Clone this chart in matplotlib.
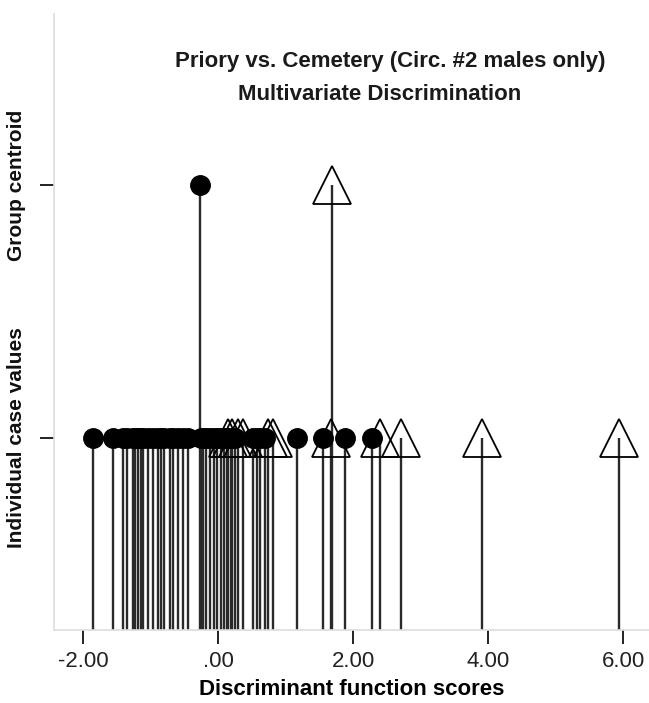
import matplotlib
matplotlib.use("Agg")
import matplotlib.pyplot as plt

plt.rcParams['font.family'] = ['Liberation Sans', 'DejaVu Sans']

# ---- data ----
priory_scores = [-1.86, -1.56, -1.41, -1.36, -1.27, -1.23, -1.19, -1.15, -1.12, -1.04,
                 -0.97, -0.90, -0.85, -0.80, -0.72, -0.67, -0.60, -0.52, -0.45, -0.26,
                 -0.23, -0.18, -0.12, -0.06, -0.02, 0.03, 0.08, 0.13, 0.18, 0.24,
                 0.51, 0.57, 0.62, 0.69, 1.17, 1.55, 1.87, 2.27]
cemetery_scores = [0.14, 0.20, 0.29, 0.36, 0.73, 0.81, 1.66, 2.39, 2.70, 3.90, 5.93]
priory_centroid = -0.28
cemetery_centroid = 1.68

x_ticks = [-2, 0, 2, 4, 6]
x_tick_labels = ['-2.00', '.00', '2.00', '4.00', '6.00']
y_levels = [1, 2]
y_tick_labels = ['Individual case values', 'Group centroid']

title_lines = ['Priory vs. Cemetery (Circ. #2 males only)', 'Multivariate Discrimination']
x_label = 'Discriminant function scores'

# ---- figure ----
fig = plt.figure(figsize=(6.49, 7.03), dpi=100)
ax = fig.add_axes([54/649, 73/703, 1 - 54/649, (630 - 14)/703])

ymin, ymax = 0.241, 2.676
ax.set_ylim(ymin, ymax)
ax.set_xlim(-2.437, 6.378)

stem_kw = dict(color='#2a2a2a', lw=1.7, zorder=1)
ind, cen = y_levels
ax.vlines(priory_scores, ymin, ind, **stem_kw)
ax.vlines(cemetery_scores, ymin, ind, **stem_kw)
ax.vlines([priory_centroid, cemetery_centroid], ymin, cen, **stem_kw)

circ_kw = dict(marker='o', ms=14, mfc='black', mec='black', ls='none', zorder=3)
tri_kw = dict(marker='^', ms=27, mfc='none', mec='black', mew=1.3, ls='none', zorder=2)
ax.plot(cemetery_scores, [ind]*len(cemetery_scores), **tri_kw)
ax.plot([cemetery_centroid], [cen], **tri_kw)
ax.plot(priory_scores, [ind]*len(priory_scores), **circ_kw)
ax.plot([priory_centroid], [cen], **circ_kw)

ax.set_xticks(x_ticks)
ax.set_xticklabels(x_tick_labels, fontsize=16, color='#222222')
ax.set_yticks(y_levels)
ax.set_yticklabels(y_tick_labels, rotation=90, va='center', fontsize=15,
                   fontweight='bold', color='#111111')
ax.tick_params(axis='both', direction='out', length=10, width=1.4, color='#222222')
ax.tick_params(axis='x', pad=5)
ax.tick_params(axis='y', pad=10)

for s in ['top', 'right']:
    ax.spines[s].set_visible(False)
for s in ['left', 'bottom']:
    ax.spines[s].set_color('#dddddd')
    ax.spines[s].set_linewidth(1.2)

ax.set_xlabel(x_label, fontsize=16, fontweight='bold', labelpad=5)

fig.text(390/649, 1 - 62/703, title_lines[0], ha='center', va='center',
         fontsize=16, fontweight='bold', color='#1a1a1a')
fig.text(380/649, 1 - 95/703, title_lines[1], ha='center', va='center',
         fontsize=16, fontweight='bold', color='#1a1a1a')

fig.savefig('out.png', dpi=100)
